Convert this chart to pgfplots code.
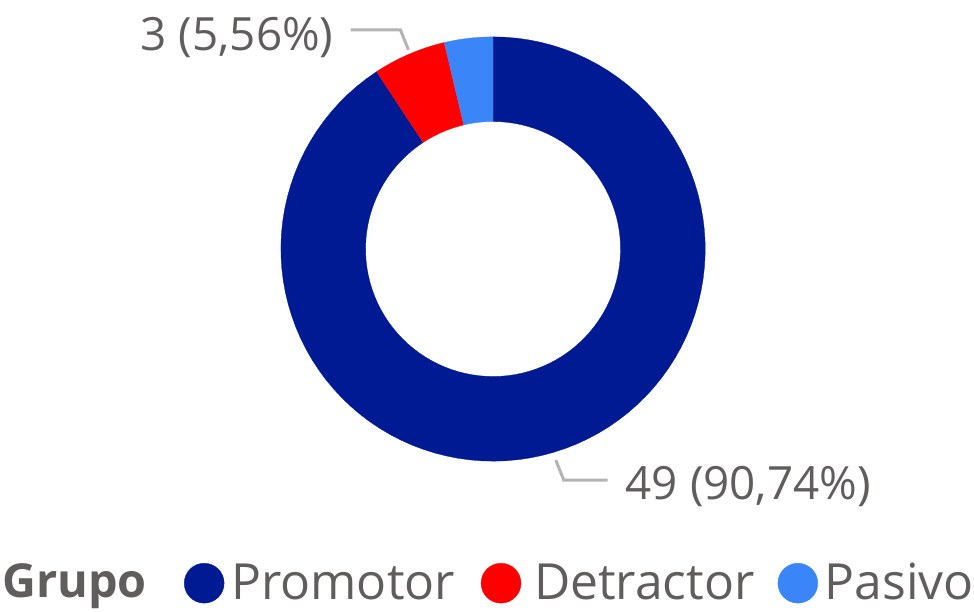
\documentclass[border=0pt]{standalone}
\usepackage{pgfplots}
\pgfplotsset{compat=1.18}
\usepackage{fontspec}
\setmainfont{Open Sans}
\definecolor{cProm}{HTML}{001A94}
\definecolor{cDet}{HTML}{FF0000}
\definecolor{cPas}{HTML}{3A85F7}
\definecolor{txt}{HTML}{605E5C}
\definecolor{lead}{HTML}{B3B3B3}
% data
\def\vProm{49}
\def\vDet{3}
\def\vPas{2}
\pgfmathsetmacro\tot{\vProm+\vDet+\vPas}
\pgfmathsetmacro\aA{90}
\pgfmathsetmacro\aB{\aA-\vProm/\tot*360}
\pgfmathsetmacro\aC{\aB-\vDet/\tot*360}
\pgfmathsetmacro\aD{\aC-\vPas/\tot*360}
\def\cx{495}\def\cy{364}\def\Ro{213}\def\Ri{128}
\newcommand{\slice}[3]{%
\addplot[fill=#1, draw=#1, line width=0.3pt, samples at={0,0.01,...,2.01}, variable=\t]
 ({\cx + ((\t<1.005) ? \Ro : \Ri)*cos((\t<1.005) ? (#2+(#3-#2)*\t) : (#3-(#3-#2)*(\t-1.01)))},
  {\cy + ((\t<1.005) ? \Ro : \Ri)*sin((\t<1.005) ? (#2+(#3-#2)*\t) : (#3-(#3-#2)*(\t-1.01)))});}
\begin{document}
\begin{tikzpicture}
\begin{axis}[width=974pt,height=614pt,scale only axis,xmin=0,xmax=974,ymin=0,ymax=614,hide axis,clip=false]
\path (rel axis cs:0,0) rectangle (rel axis cs:1,1);
\slice{cProm}{\aA}{\aB}
\slice{cDet}{\aB}{\aC}
\slice{cPas}{\aC}{\aD}
\addplot[color=lead, line width=3pt] coordinates {(352,584)(402,584)(410,564)};
\addplot[color=lead, line width=3pt] coordinates {(558,152)(566,132)(610,132)};
\node[anchor=east, text=txt, font=\fontsize{46}{50}\selectfont, inner sep=0pt] at (axis cs:335,576) {3 (5,56\%)};
\node[anchor=west, text=txt, font=\fontsize{46}{50}\selectfont, inner sep=0pt] at (axis cs:628,126) {49 (90,74\%)};
% legend
\addplot[only marks, mark=*, mark size=20pt, color=cProm] coordinates {(205,28.5)};
\addplot[only marks, mark=*, mark size=20pt, color=cDet] coordinates {(503,28.5)};
\addplot[only marks, mark=*, mark size=20pt, color=cPas] coordinates {(801,28.5)};
\node[anchor=base west, text=txt, font=\fontsize{47}{52}\selectfont\bfseries, inner sep=0pt] at (axis cs:2,14) {Grupo};
\node[anchor=base west, text=txt, font=\fontsize{50}{54}\selectfont, inner sep=0pt] at (axis cs:232,12) {Promotor};
\node[anchor=base west, text=txt, font=\fontsize{50}{54}\selectfont, inner sep=0pt] at (axis cs:536,12) {Detractor};
\node[anchor=base west, text=txt, font=\fontsize{50}{54}\selectfont, inner sep=0pt] at (axis cs:828,12) {Pasivo};
\end{axis}
\end{tikzpicture}
\end{document}
